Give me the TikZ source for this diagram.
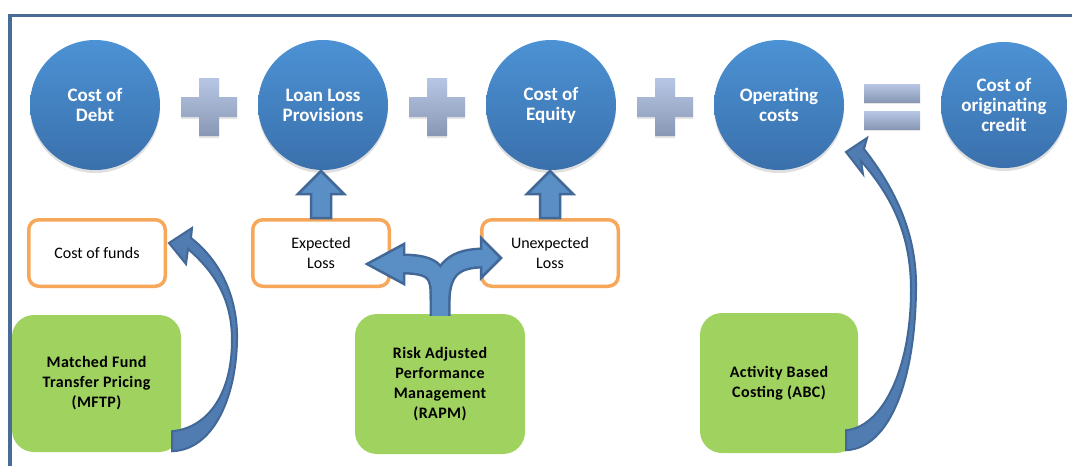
\documentclass[tikz,border=0pt]{standalone}
\usepackage{fontspec}
\setmainfont{Carlito}
\newfontfamily\gfont[LetterSpace=2.5]{Carlito}
\usetikzlibrary{calc,shadows}
\definecolor{frameblue}{RGB}{72,108,152}
\definecolor{ctop}{RGB}{76,146,212}
\definecolor{cbot}{RGB}{58,112,172}
\definecolor{optop}{RGB}{182,198,228}
\definecolor{opbot}{RGB}{136,152,180}
\definecolor{orng}{RGB}{247,167,90}
\definecolor{grn}{RGB}{160,210,96}
\definecolor{arrfill}{RGB}{90,143,198}
\definecolor{arcfill}{RGB}{80,124,178}
\definecolor{arrline}{RGB}{66,104,152}
\begin{document}
\begin{tikzpicture}[x=1pt,y=-1pt,
  bigc/.style={circle, minimum size=130pt, inner sep=0pt, top color=ctop, bottom color=cbot,
    text=white, font=\fontsize{19}{20}\selectfont\bfseries, align=center,
    drop shadow={shadow xshift=0pt, shadow yshift=-3pt, opacity=0.25}},
  obox/.style={draw=orng, line width=3.5pt, rounded corners=10pt, fill=white,
    minimum width=136.5pt, minimum height=66.5pt, font=\fontsize{16}{20}\selectfont,
    align=center, inner sep=0pt},
  gbox/.style={fill=grn, rounded corners=22pt, inner sep=0pt,
    font=\gfont\fontsize{16}{20}\selectfont\bfseries, align=center},
  opsh/.style={top color=optop, bottom color=opbot,
    drop shadow={shadow xshift=0pt, shadow yshift=-2pt, opacity=0.2}},
  blk/.style={fill=arrfill, draw=arrline, line width=2.5pt, line join=miter},
  arcarrow/.style={fill=arcfill, draw=arrline, line width=2pt, line join=miter},
  plussign/.pic={\path[opsh] (-10,-29) -- (10,-29) -- (10,-10) -- (28,-10) -- (28,10) -- (10,10)
     -- (10,29) -- (-10,29) -- (-10,10) -- (-28,10) -- (-28,-10) -- (-10,-10) -- cycle;},
]
\useasboundingbox (0,0) rectangle (1072,466);
\clip (0,0) rectangle (1072,466);
\fill[white] (0,0) rectangle (1072,466);
% frame
\draw[frameblue, line width=3.5pt] (10,15.5) rectangle (1110,520);

% top row
\node[bigc] (cd)  at (95,105)  {Cost of\\Debt};
\node[bigc] (llp) at (323,105) {Loan Loss\\Provisions};
\node[bigc] (ce)  at (551,105) {Cost of\\Equity};
\node[bigc] (oc)  at (779,105) {Operating\\costs};
\node[bigc, minimum size=126pt] (coc) at (1004,105) {Cost of\\originating\\credit};
\pic at (209,107) {plussign};
\pic at (437,107) {plussign};
\pic at (665,107) {plussign};
\path[opsh] (864,84) rectangle (920,102);
\path[opsh] (864,111) rectangle (920,129);

% middle boxes
\node[obox] (cf) at (97,253)  {Cost of funds};
\node[obox] (el) at (321,253) {Expected\\Loss};
\node[obox] (ul) at (550,253) {Unexpected\\Loss};

% green boxes
\node[gbox, minimum width=169pt, minimum height=137pt] (mftp) at (96.5,383.5)
  {Matched Fund\\Transfer Pricing\\(MFTP)};
\node[gbox, minimum width=170pt, minimum height=140pt] (rapm) at (440,384)
  {Risk Adjusted\\Performance\\Management\\(RAPM)};
\node[gbox, minimum width=158pt, minimum height=140pt] (abc) at (779,383)
  {Activity Based\\Costing (ABC)};

% up arrows
\draw[blk] (el.north) ++(-10,0) -- ++(0,-24) -- ++(-13,0) -- ++(23,-23) -- ++(23,23)
  -- ++(-13,0) -- ++(0,24) -- cycle;
\draw[blk] (ul.north) ++(-10,0) -- ++(0,-24) -- ++(-13,0) -- ++(23,-23) -- ++(23,23)
  -- ++(-13,0) -- ++(0,24) -- cycle;

% split arrow from RAPM
\coordinate (st) at ($(rapm.north)+(0,2)$);
\coordinate (lt) at (367,264);
\coordinate (rt) at (501,258);
\draw[arrline, line width=21pt] (st) -- (440,294) .. controls (440,270) and (430,264) .. (401,264);
\draw[arrline, line width=21pt] (440,300) .. controls (441,268) and (456,258) .. (484,258);
\draw[blk] (404,244) -- (lt) -- (404,284) -- cycle;
\draw[blk] (481,238) -- (rt) -- (481,278) -- cycle;
\draw[arrfill, line width=16pt] (st) -- (440,294) .. controls (440,270) and (430,264) .. (401,264);
\draw[arrfill, line width=16pt] (440,300) .. controls (441,268) and (456,258) .. (484,258);

% curved arrow MFTP -> cost of funds
\coordinate (m0) at ($(mftp.south east)+(-9,-1)$);
\coordinate (m1) at ($(cf.east)+(2,-10)$);
\draw[arcarrow] (m1) -- (192,228) -- (191,238)
  .. controls (222,262) and (238,300) .. (237,340)
  .. controls (236,400) and (212,450) .. (m0)
  -- ++(0,-20)
  .. controls (207,428) and (232,395) .. (232,340)
  .. controls (232,302) and (217,274) .. (188,249)
  -- (186,264) -- cycle;

% curved arrow ABC -> operating costs
\coordinate (a0) at ($(abc.south east)+(-12,-3)$);
\coordinate (a1) at (846,152);
\draw[arcarrow] (a1) -- (867,138) -- (864,149)
  .. controls (900,195) and (917,240) .. (916,290)
  .. controls (915,380) and (890,448) .. (a0)
  -- ++(0,-20)
  .. controls (882,427) and (911,370) .. (911,290)
  .. controls (911,242) and (897,202) .. (861,161)
  -- (863,174) -- cycle;
\end{tikzpicture}
\end{document}
